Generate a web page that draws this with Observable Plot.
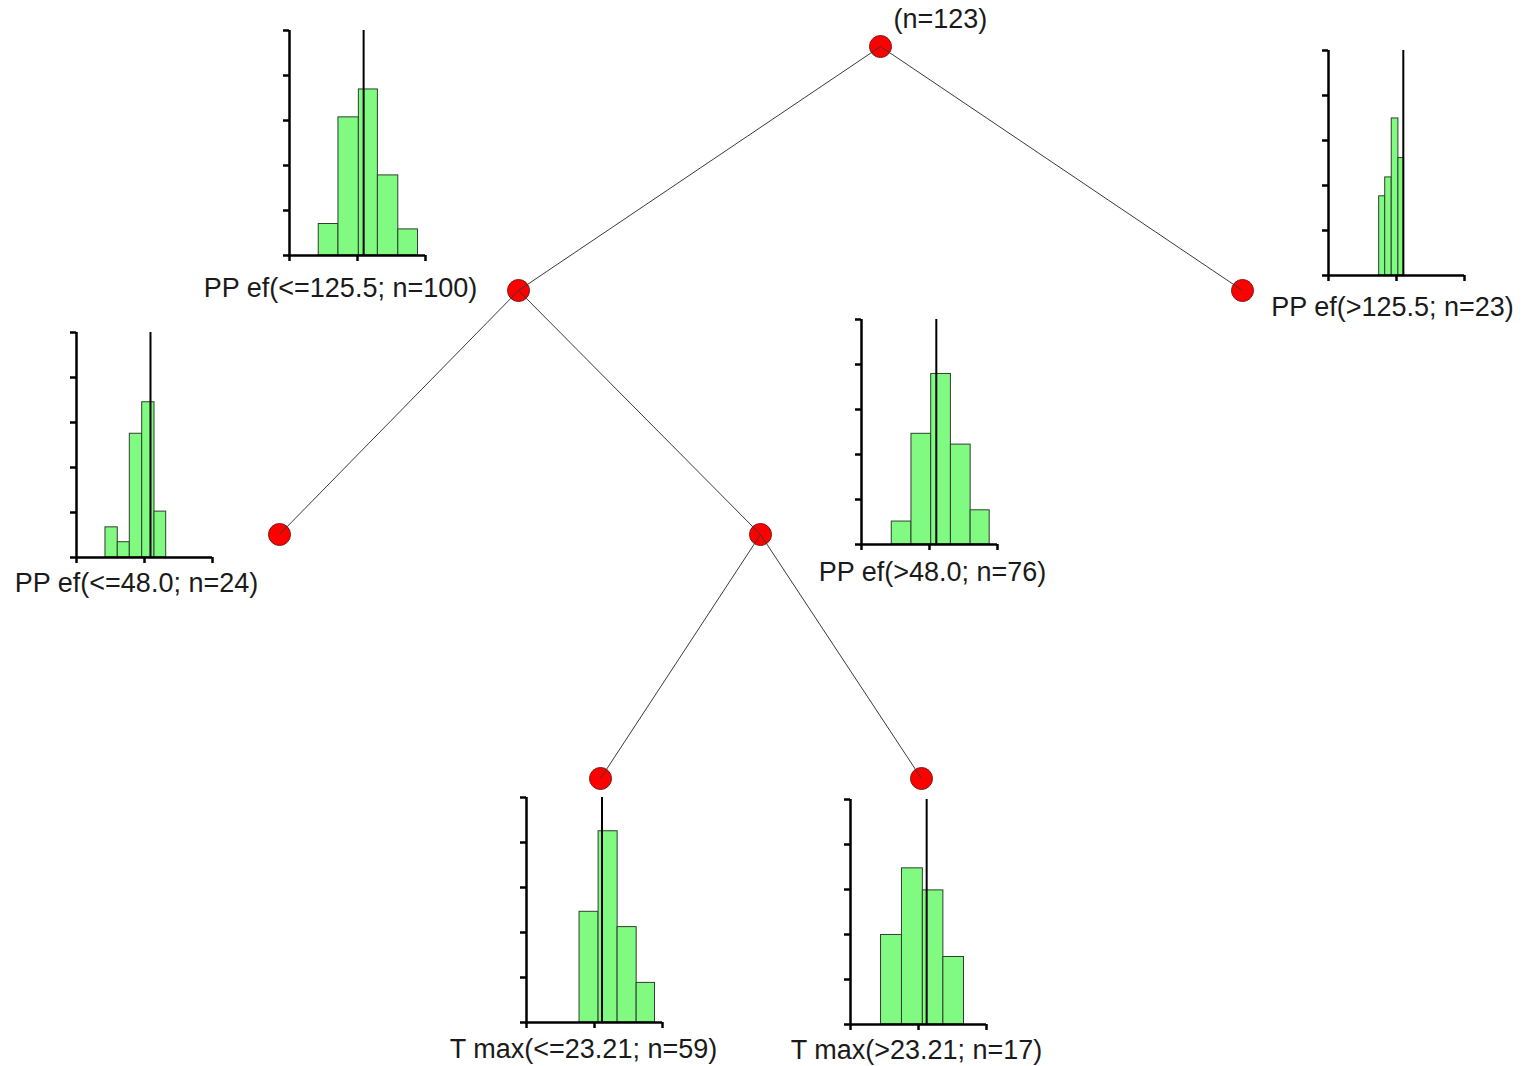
<!DOCTYPE html>
<html><head><meta charset="utf-8">
<script src="https://cdn.jsdelivr.net/npm/d3@7"></script>
<script src="https://cdn.jsdelivr.net/npm/@observablehq/plot@0.6"></script>
<style>
body{margin:0;background:#fff;}
#chart{position:relative;width:1524px;height:1066px;overflow:hidden;background:#fff;}
.layer{position:absolute;}
</style></head><body><div id="chart"></div>
<script>
// ---- tree data ----
const nodeIds = ["root", "A", "B", "C", "D", "E", "F"];
const nodeParents = [null, "root", "root", "A", "A", "D", "D"];
const nodeDepth = [0, 1, 1, 2, 2, 3, 3];
const nodeX = [880, 518, 1242, 279, 760, 600, 921];
const rootLabel = "(n=123)";

// ---- histogram data (bin edges, bar heights in y-tick units, mean line) ----
const histLabels = [
  "PP ef(<=125.5; n=100)",
  "PP ef(>125.5; n=23)",
  "PP ef(<=48.0; n=24)",
  "PP ef(>48.0; n=76)",
  "T max(<=23.21; n=59)",
  "T max(>23.21; n=17)"
];
const h1Edges = [0.43, 0.72, 1.02, 1.30, 1.60, 1.89];
const h1Heights = [0.70, 3.07, 3.69, 1.78, 0.58];
const h2Edges = [0.745, 0.834, 0.93, 1.028, 1.112];
const h2Heights = [1.76, 2.18, 3.49, 2.61];
const h3Edges = [0.426, 0.607, 0.784, 0.966, 1.147, 1.319];
const h3Heights = [0.67, 0.34, 2.75, 3.45, 1.02];
const h4Edges = [0.445, 0.735, 1.025, 1.315, 1.605, 1.885];
const h4Heights = [0.51, 2.46, 3.79, 2.22, 0.76];
const h5Edges = [0.78, 1.06, 1.34, 1.62, 1.89];
const h5Heights = [2.46, 4.25, 2.12, 0.88];
const h6Edges = [0.449, 0.757, 1.064, 1.366, 1.669];
const h6Heights = [1.99, 3.47, 2.98, 1.50];
const histMeans = [1.09, 1.10, 1.088, 1.10, 1.11, 1.12];

// placement (layout only): left of y-axis, top of y-axis, label dx, label dy
const histPlacement = [
  [289, 30, -17, 33],
  [1328, 50, -4, 32],
  [76, 332, -8, 26],
  [861, 319, 3, 28],
  [526, 797, -11, 27],
  [850, 799, -2, 26]
];

const FONT = "'Liberation Sans', Arial, Helvetica, sans-serif";
const chart = document.getElementById("chart");

// ---- tree ----
const nodes = nodeIds.map((id, i) => ({id, parent: nodeParents[i], depth: nodeDepth[i], x: nodeX[i]}));
const byId = new Map(nodes.map(n => [n.id, n]));
const links = nodes.filter(n => n.parent).map(n => {
  const p = byId.get(n.parent);
  return {x1: p.x, y1: p.depth, x2: n.x, y2: n.depth};
});

const tree = Plot.plot({
  width: 1524, height: 1066,
  margin: 0,
  x: {domain: [0, 1524], range: [0, 1524], axis: null},
  y: {domain: [0, 3], range: [46, 778], axis: null},
  style: {background: "transparent", overflow: "visible", maxWidth: "none"},
  marks: [
    Plot.dot(nodes, {x: "x", y: "depth", r: 11, fill: "#ff0000", stroke: "#7a1a1a", strokeWidth: 1}),
    Plot.link(links, {x1: "x1", y1: "y1", x2: "x2", y2: "y2", stroke: "#3a3a3a", strokeWidth: 1}),
    Plot.text(nodes.filter(n => n.depth === 0), {x: "x", y: "depth", text: () => rootLabel,
      textAnchor: "start", dx: 13, dy: -27, fontSize: 27, fontFamily: FONT, fill: "#1a1a1a"})
  ]
});
const tl = document.createElement("div");
tl.className = "layer"; tl.style.left = "0px"; tl.style.top = "0px";
tl.appendChild(tree);
chart.appendChild(tl);

// ---- histograms ----
const allEdges = [h1Edges, h2Edges, h3Edges, h4Edges, h5Edges, h6Edges];
const allHeights = [h1Heights, h2Heights, h3Heights, h4Heights, h5Heights, h6Heights];

allEdges.forEach((edges, k) => {
  const bins = allHeights[k].map((h, i) => ({x1: edges[i], x2: edges[i + 1], h}));
  const [ax, ay, ldx, ldy] = histPlacement[k];
  const mL = 170, mR = 170, mT = 4, mB = 44;
  const p = Plot.plot({
    width: 136 + mL + mR,
    height: 225 + mT + mB,
    marginLeft: mL, marginRight: mR, marginTop: mT, marginBottom: mB,
    x: {domain: [0, 2], label: null},
    y: {domain: [0, 5], label: null},
    style: {background: "transparent", overflow: "visible", maxWidth: "none"},
    marks: [
      Plot.rect(bins, {x1: "x1", x2: "x2", y1: 0, y2: "h", fill: "#80fa80", stroke: "#2f3f2f", strokeWidth: 1}),
      Plot.ruleX([histMeans[k]], {y1: 0, y2: 5, stroke: "#000", strokeWidth: 2}),
      Plot.axisY({ticks: 5, tickSize: 6, tickFormat: () => "", label: null, stroke: "#000", strokeWidth: 2.5}),
      Plot.axisX({ticks: 2, tickSize: 6, tickFormat: () => "", label: null, stroke: "#000", strokeWidth: 2.5}),
      Plot.ruleX([0], {y1: 0, y2: 5, stroke: "#000", strokeWidth: 2.5}),
      Plot.ruleY([0], {x1: 0, x2: 2, stroke: "#000", strokeWidth: 2.5}),
      Plot.text([histLabels[k]], {frameAnchor: "bottom", text: d => d, dx: ldx, dy: ldy,
        lineAnchor: "middle", fontSize: 27, fontFamily: FONT, fill: "#1a1a1a"})
    ]
  });
  const d = document.createElement("div");
  d.className = "layer";
  d.style.left = (ax - mL) + "px";
  d.style.top = (ay - mT) + "px";
  d.appendChild(p);
  chart.appendChild(d);
});
</script></body></html>
